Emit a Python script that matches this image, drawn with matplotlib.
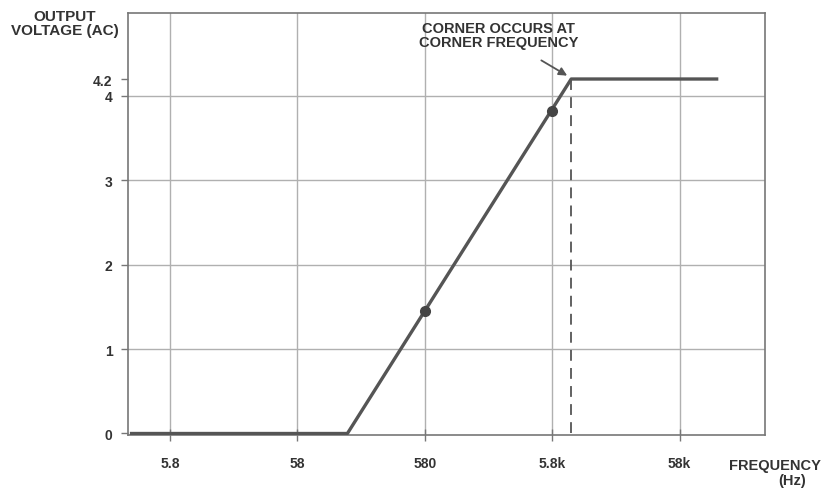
import matplotlib
matplotlib.use("Agg")
import matplotlib.pyplot as plt

# Data
freq = [2.8, 143, 8180, 117000]
volt = [0, 0, 4.2, 4.2]
dot_freq = [580, 5800]
dot_volt = [1.45, 3.82]
corner_freq = 8180
corner_volt = 4.2
x_ticks = [5.8, 58, 580, 5800, 58000]
x_labels = ["5.8", "58", "580", "5.8k", "58k"]
y_ticks = [0, 1, 2, 3, 4, 4.2]
y_labels = ["0", "1", "2", "3", "4", "4.2"]
grid_y = [1, 2, 3, 4]

plt.rcParams['font.family'] = ['Liberation Sans', 'DejaVu Sans']
txt = '#333333'

W, H = 825, 489
fig = plt.figure(figsize=(8.25, 4.89), dpi=100)
ax = fig.add_axes([0.155, 0.108, 0.772, 0.863])
ax.set_xscale('log')
ax.set_xlim(2.7, 271000)
ax.set_ylim(-0.02, 4.98)

for xv in x_ticks:
    ax.axvline(xv, color='#b0b0b0', lw=1.0, zorder=1)
for yv in grid_y:
    ax.axhline(yv, color='#b0b0b0', lw=1.0, zorder=1)

ax.plot(freq, volt, color='#555555', lw=2.4, solid_capstyle='butt', zorder=3)
ax.plot(dot_freq, dot_volt, 'o', color='#444444', ms=7, zorder=4)
ax.plot([corner_freq, corner_freq], [0, corner_volt], color='#555555', lw=1.3,
        ls=(0, (6, 4)), zorder=2)

ax.set_xticks(x_ticks)
ax.set_xticklabels(x_labels)
ax.minorticks_off()
ax.set_yticks(y_ticks)
ax.set_yticklabels(y_labels)
ax.tick_params(axis='x', direction='inout', length=8, width=1, colors='#777777',
               labelcolor=txt, labelsize=10, pad=11)
ax.tick_params(axis='y', direction='out', length=5, width=1, colors='#777777',
               labelcolor=txt, labelsize=10, pad=6)
for lab in ax.get_xticklabels() + ax.get_yticklabels():
    lab.set_fontweight('bold')

for s in ax.spines.values():
    s.set_color('#777777')
    s.set_linewidth(1.2)

fig.text(65 / W, 1 - 10 / H, "OUTPUT\nVOLTAGE (AC)", ha='center', va='top',
         fontsize=11, fontweight='bold', color=txt, linespacing=1.0)
fig.text(821 / W, 1 - 466 / H, "FREQUENCY", ha='right', va='center',
         fontsize=10.5, fontweight='bold', color=txt)
fig.text(792 / W, 1 - 481 / H, "(Hz)", ha='center', va='center',
         fontsize=10.5, fontweight='bold', color=txt)

ax.annotate("CORNER OCCURS AT\nCORNER FREQUENCY", xy=(corner_freq * 0.93, corner_volt + 0.04),
            xytext=(2200, 4.72), ha='center', va='center', fontsize=10.5,
            fontweight='bold', color=txt, linespacing=1.0,
            arrowprops=dict(arrowstyle='-|>', color='#555555', lw=1.3,
                            shrinkA=12, shrinkB=0, mutation_scale=12))

fig.savefig("out.png", dpi=100)
